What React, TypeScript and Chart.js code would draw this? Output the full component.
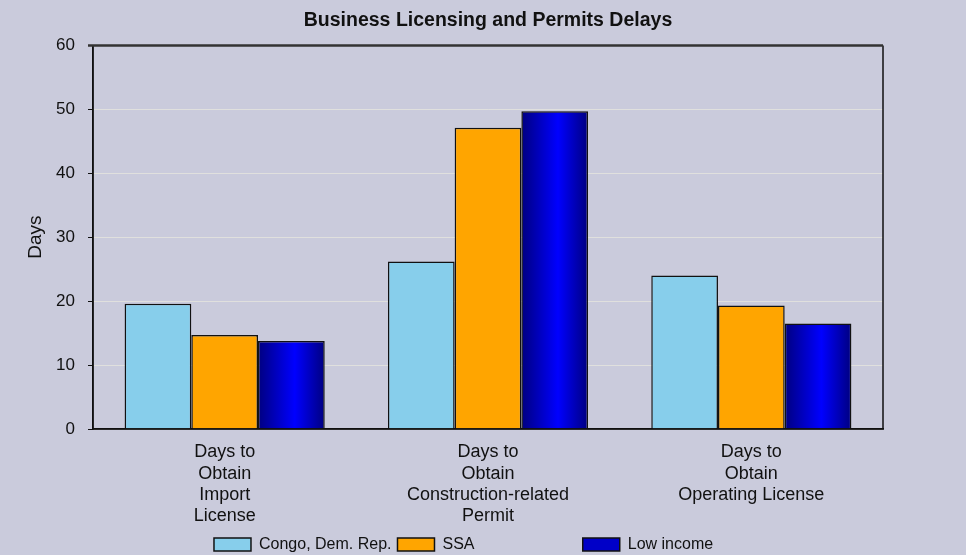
import React, { useEffect, useRef } from "react";
import { Chart, registerables } from "chart.js";

Chart.register(...registerables);

const chartTitle = "Business Licensing and Permits Delays";
const yAxisTitle = "Days";
const categories: string[][] = [
  ["Days to", "Obtain", "Import", "License"],
  ["Days to", "Obtain", "Construction-related", "Permit"],
  ["Days to", "Obtain", "Operating License"],
];
const seriesNames = ["Congo, Dem. Rep.", "SSA", "Low income"];
const congoValues = [19.6, 26.2, 24.0];
const ssaValues = [14.7, 47.1, 19.3];
const lowIncomeValues = [13.75, 49.7, 16.5];
const yTicks = [0, 10, 20, 30, 40, 50, 60];

const FONT = "'Liberation Sans', Arial, sans-serif";
const BG = "#cacbdc";
const CAT_PCT = 0.76;

export default function App() {
  const ref = useRef<HTMLCanvasElement | null>(null);

  useEffect(() => {
    document.body.style.margin = "0";
    const canvas = ref.current;
    if (!canvas) return;

    const lowGradient = (c: any) => {
      const chart = c.chart;
      const xs = chart.scales && chart.scales.x;
      if (!xs || typeof c.dataIndex !== "number") return "#0000c0";
      const n = categories.length;
      const catW = (xs.right - xs.left) / n;
      const barW = (catW * CAT_PCT) / 3;
      const center = xs.getPixelForValue(c.dataIndex) + barW;
      const x0 = center - barW / 2;
      const x1 = center + barW / 2;
      if (!isFinite(x0) || !isFinite(x1) || !(barW > 0)) return "#0000c0";
      const g = chart.ctx.createLinearGradient(x0, 0, x1, 0);
      g.addColorStop(0, "#000080");
      g.addColorStop(0.55, "#0000ff");
      g.addColorStop(1, "#000080");
      return g;
    };

    const bgPlugin = {
      id: "bgFill",
      beforeDraw(chart: any) {
        const { ctx, width, height } = chart;
        ctx.save();
        ctx.fillStyle = BG;
        ctx.fillRect(0, 0, width, height);
        ctx.restore();
      },
    };

    const framePlugin = {
      id: "frame",
      afterDatasetsDraw(chart: any) {
        const { ctx, chartArea } = chart;
        const { left, right, top, bottom } = chartArea;
        ctx.save();
        ctx.strokeStyle = "#111";
        ctx.lineWidth = 1.5;
        ctx.beginPath();
        ctx.moveTo(left, top);
        ctx.lineTo(left, bottom);
        ctx.lineTo(right, bottom);
        ctx.lineTo(right, top);
        ctx.stroke();
        ctx.strokeStyle = "#333";
        ctx.lineWidth = 2.5;
        ctx.beginPath();
        ctx.moveTo(left - 5, top);
        ctx.lineTo(right, top);
        ctx.stroke();
        ctx.restore();
      },
    };

    const padTo = (text: string, target: number, ctx: CanvasRenderingContext2D) => {
      let t = text;
      let guard = 0;
      while (ctx.measureText(t).width < target && guard < 200) {
        t += " ";
        guard++;
      }
      return t;
    };

    const chart = new Chart(canvas, {
      type: "bar",
      data: {
        labels: categories,
        datasets: [
          {
            label: seriesNames[0],
            data: congoValues,
            backgroundColor: "#87ceeb",
            borderColor: "#111",
            borderWidth: 1.5,
          },
          {
            label: seriesNames[1],
            data: ssaValues,
            backgroundColor: "#ffa500",
            borderColor: "#111",
            borderWidth: 1.5,
          },
          {
            label: seriesNames[2],
            data: lowIncomeValues,
            backgroundColor: lowGradient,
            borderColor: "#111",
            borderWidth: 1.5,
          },
        ],
      },
      options: {
        responsive: false,
        animation: false,
        layout: { padding: { left: 0, right: 83, top: 0, bottom: -7.5 } },
        datasets: {
          bar: { categoryPercentage: CAT_PCT, barPercentage: 1 },
        },
        plugins: {
          title: {
            display: true,
            fullSize: false,
            text: chartTitle,
            color: "#111",
            font: { family: FONT, size: 19.5, weight: "bold" },
            padding: { top: 9, bottom: 13 },
          },
          legend: {
            position: "bottom",
            fullSize: false,
            labels: {
              boxWidth: 37,
              boxHeight: 13,
              padding: 6,
              color: "#111",
              font: { family: FONT, size: 16 },
              generateLabels(ch: any) {
                const base = Chart.defaults.plugins.legend.labels.generateLabels(ch);
                const ctx = ch.ctx as CanvasRenderingContext2D;
                ctx.save();
                ctx.font = `16px ${FONT}`;
                const targets = [131, 133, 130];
                const out = base.map((l: any, i: number) => ({
                  ...l,
                  text: padTo(l.text, targets[i], ctx),
                  fillStyle: i === 2 ? "#0000c8" : l.fillStyle,
                  strokeStyle: "#111",
                  lineWidth: 1.5,
                }));
                ctx.restore();
                return out;
              },
            },
          },
          tooltip: { enabled: false },
        },
        scales: {
          x: {
            grid: { display: false },
            border: { display: true, color: "#111", width: 1.5 },
            ticks: {
              color: "#111",
              font: { family: FONT, size: 18, lineHeight: 1.17 },
              padding: 5,
              autoSkip: false,
              maxRotation: 0,
              minRotation: 0,
            },
            afterFit(scale: any) {
              scale.height = 101.5;
            },
          },
          y: {
            min: 0,
            max: 60,
            afterBuildTicks(scale: any) {
              scale.ticks = yTicks.map((v) => ({ value: v }));
            },
            grid: {
              color: "rgba(226,226,222,0.9)",
              lineWidth: 1,
              tickColor: "#111",
              tickLength: 5,
            },
            border: { display: true, color: "#111", width: 1.5 },
            ticks: {
              color: "#111",
              font: { family: FONT, size: 17 },
              padding: 13,
            },
            title: {
              display: true,
              text: yAxisTitle,
              color: "#111",
              font: { family: FONT, size: 19 },
              padding: { top: 24, bottom: 0 },
            },
            afterFit(scale: any) {
              scale.width = 93;
            },
          },
        },
      },
      plugins: [bgPlugin, framePlugin],
    });

    return () => chart.destroy();
  }, []);

  return (
    <div style={{ width: 966, height: 555 }}>
      <canvas ref={ref} width={966} height={555} />
    </div>
  );
}
